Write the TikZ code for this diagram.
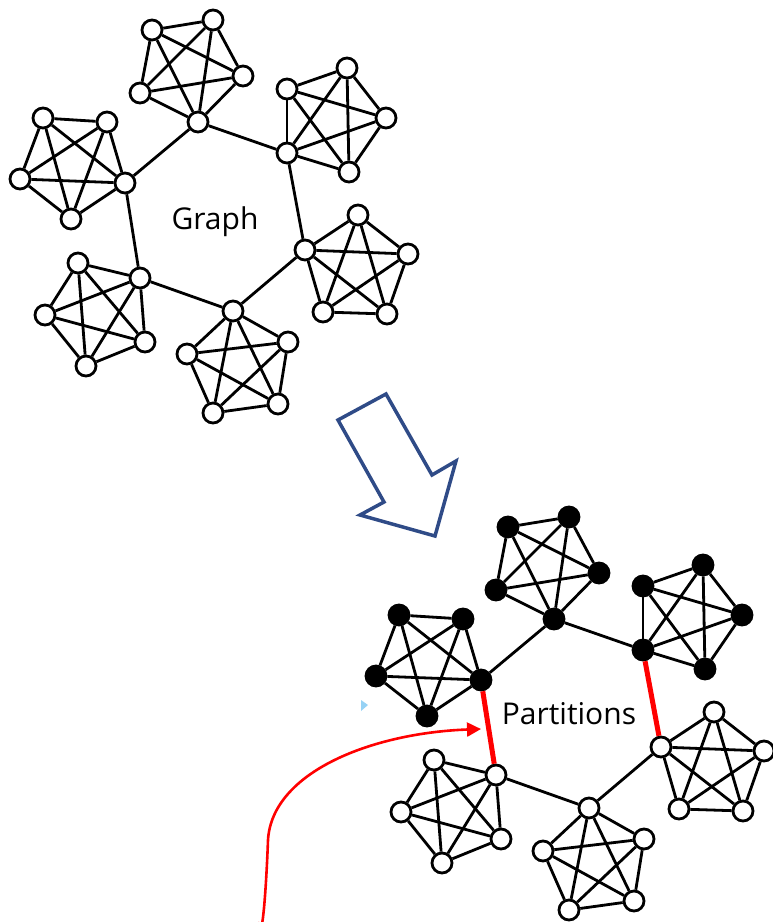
\documentclass[tikz,border=0pt]{standalone}
\usepackage{fontspec}
\setmainfont{Open Sans}
\usetikzlibrary{arrows.meta}

\definecolor{azulflecha}{RGB}{47,75,135}
\definecolor{celeste}{RGB}{150,210,245}

% Grafo: seis cliques K5 unidos en anillo por sus vertices centrales
% #1 prefijo, #2 estilo cliques 1,2,6, #3 estilo cliques 3,4,5, #4 aristas 2-3 y 5-6
\newcommand{\grafo}[4]{
    % Clique 1
    \node[#2] (#11a) at (198,122) {};
    \node[#2] (#11b) at (140,93) {};
    \node[#2] (#11c) at (152,30) {};
    \node[#2] (#11d) at (213,20) {};
    \node[#2] (#11e) at (243,76) {};
    % Clique 2
    \node[#2] (#12a) at (287,153) {};
    \node[#2] (#12b) at (287,89) {};
    \node[#2] (#12c) at (347,68) {};
    \node[#2] (#12d) at (386,118) {};
    \node[#2] (#12e) at (349,172) {};
    % Clique 3
    \node[#3] (#13a) at (305,250) {};
    \node[#3] (#13b) at (358,215) {};
    \node[#3] (#13c) at (408,254) {};
    \node[#3] (#13d) at (387,314) {};
    \node[#3] (#13e) at (323,312) {};
    % Clique 4
    \node[#3] (#14a) at (233,311) {};
    \node[#3] (#14b) at (288,342) {};
    \node[#3] (#14c) at (278,404) {};
    \node[#3] (#14d) at (213,413) {};
    \node[#3] (#14e) at (187,354) {};
    % Clique 5
    \node[#3] (#15a) at (140,278) {};
    \node[#3] (#15b) at (145,342) {};
    \node[#3] (#15c) at (86,366) {};
    \node[#3] (#15d) at (45,315) {};
    \node[#3] (#15e) at (78,263) {};
    % Clique 6
    \node[#2] (#16a) at (125,183) {};
    \node[#2] (#16b) at (71,219) {};
    \node[#2] (#16c) at (20,179) {};
    \node[#2] (#16d) at (43,118) {};
    \node[#2] (#16e) at (107,122) {};

    \foreach \c in {1,...,6}
        \foreach \u/\v in {a/b,a/c,a/d,a/e,b/c,b/d,b/e,c/d,c/e,d/e}
            \draw (#1\c\u) -- (#1\c\v);

    % Anillo
    \draw (#13a) -- (#14a) -- (#15a);
    \draw (#16a) -- (#11a) -- (#12a);
    \draw[#4] (#12a) -- (#13a);
    \draw[#4] (#15a) -- (#16a);
}

\begin{document}
\begin{tikzpicture}[x=1pt,y=-1pt,line width=2.8pt,
    vert/.style={circle,draw,minimum size=20pt,inner sep=0pt},
    vacio/.style={vert,fill=white},
    lleno/.style={vert,fill=black},
    arista/.style={},
    corte/.style={red,line width=5pt},
    rotulo/.style={anchor=base,font=\fontsize{30}{36}\selectfont}]
    \useasboundingbox (0,0) rectangle (773,922);

    % Grafo original
    \grafo{g}{vacio}{vacio}{arista}
    \node[rotulo] (tgrafo) at (215,229) {Graph};

    % Flecha
    \draw[azulflecha,line width=3.5pt,line join=miter]
        (338,420) -- (386,394) -- (432,475) -- (456,461)
        -- (435,536) -- (360,515) -- (384,502) -- cycle;

    % Grafo particionado
    \begin{scope}[shift={(356,497)}]
        \grafo{p}{lleno}{vacio}{corte}
    \end{scope}
    \node[rotulo] (tpart) at (569,724) {Partitions};

    % Flecha roja hacia la arista cortada
    \coordinate (inicio) at (258,922);
    \coordinate (puntero) at (481,729);
    \draw[red,line width=2.6pt,-{Triangle[length=14pt,width=14pt]}]
        (inicio) to[out=-82,in=-92] (268,840)
        .. controls (272,772) and (372,733) .. (puntero);

    \fill[celeste] (361,700) -- (368,705) -- (361,711) -- cycle;
\end{tikzpicture}
\end{document}
